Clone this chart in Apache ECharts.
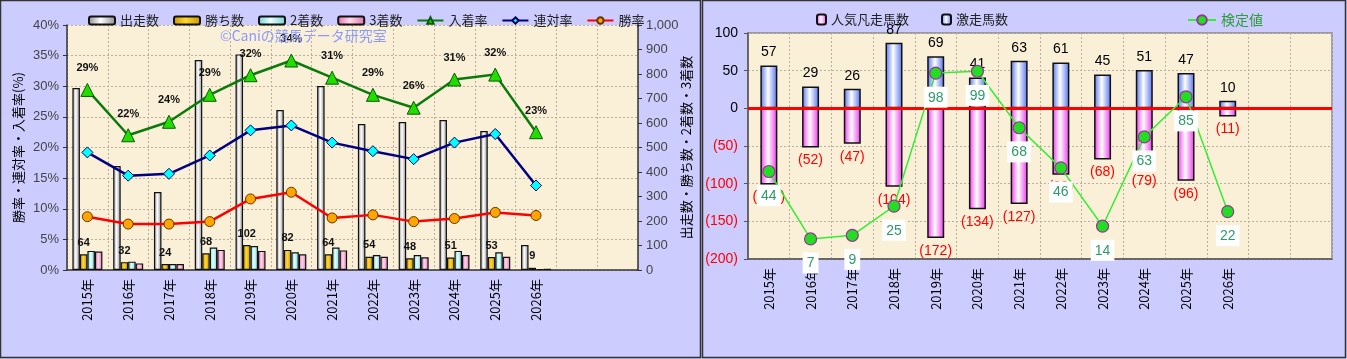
<!DOCTYPE html>
<html><head><meta charset="utf-8">
<script src="https://cdn.jsdelivr.net/npm/echarts@6/dist/echarts.min.js"></script>
<style>html,body{margin:0;padding:0;background:#CCCCFF;}#c{width:1347px;height:359px;}</style>
</head><body><div id="c"></div>
<script>
// ---- data ----
const categories = ['2015年','2016年','2017年','2018年','2019年','2020年','2021年','2022年','2023年','2024年','2025年','2026年','',''];
const starts   = [743, 424, 318, 857, 880, 653, 751, 596, 604, 612, 567, 102];
const wins     = [64, 32, 24, 68, 102, 82, 64, 54, 48, 51, 53, 9];
const seconds  = [78, 34, 24, 92, 98, 72, 92, 61, 61, 78, 72, 4];
const thirds   = [75, 27, 24, 82, 78, 64, 80, 54, 52, 61, 54, 5];
const placeRate = [29.4, 22.0, 24.2, 28.6, 31.8, 34.2, 31.4, 28.6, 26.5, 31.1, 31.9, 22.5];
const quinRate  = [19.2, 15.4, 15.7, 18.7, 22.8, 23.6, 20.8, 19.4, 18.1, 20.8, 22.2, 13.8];
const winRate   = [8.7, 7.5, 7.5, 7.9, 11.6, 12.7, 8.5, 9.0, 7.9, 8.4, 9.4, 8.9];
const placeRateLabels = ['29%','22%','24%','29%','32%','34%','31%','29%','26%','31%','32%','23%'];

const gekisou = [57, 29, 26, 87, 69, 41, 63, 61, 45, 51, 47, 10];
const ninkiBonsou = [-101, -52, -47, -104, -172, -134, -127, -88, -68, -79, -96, -11];
const kenteichi = [44, 7, 9, 25, 98, 99, 68, 46, 14, 63, 85, 22];

const leftTicks = {min: 0, max: 40, interval: 5};
const rightTicks = {min: 0, max: 1000, interval: 100};
const r2Ticks = {min: -200, max: 100, interval: 50};

// ---- styles ----
const FF = '"Liberation Sans","Noto Sans CJK JP",sans-serif';
const JF = '"Noto Sans CJK JP",sans-serif';
function grad(edge, mid){
  return new echarts.graphic.LinearGradient(0,0,1,0,[
    {offset:0,color:edge},{offset:0.45,color:mid},{offset:1,color:edge}]);
}
const dotted = {lineStyle:{color:'#b9b0a0', type:[2,2], width:1}};

const chart = echarts.init(document.getElementById('c'), null, {renderer:'canvas'});
const option = {
  backgroundColor: '#CCCCFF',
  animation: false,
  textStyle: {fontFamily: FF},
  graphic: [
    {type:'rect', shape:{x:0.5,y:0.5,width:700,height:357}, style:{fill:'none', stroke:'#333', lineWidth:1.5}, z:100},
    {type:'rect', shape:{x:702.5,y:0.5,width:643,height:357}, style:{fill:'none', stroke:'#333', lineWidth:1.5}, z:100},
    {type:'text', left:220, top:29, style:{text:'©Caniの競馬データ研究室', fill:'#8C9AFF', font:'14px '+JF}, z:50}
  ],
  legend: [
    {left:83, top:9, itemWidth:26, itemHeight:8, itemGap:14,
     textStyle:{fontSize:13, color:'#222', fontFamily:JF},
     data:['出走数','勝ち数','2着数','3着数','入着率','連対率','勝率']},
    {left:811, top:8, itemWidth:9, itemHeight:10, textStyle:{fontSize:13, color:'#222', fontFamily:JF}, data:['人気凡走馬数']},
    {left:936, top:8, itemWidth:9, itemHeight:10, textStyle:{fontSize:13, color:'#222', fontFamily:JF}, data:['激走馬数']},
    {left:1182, top:8, itemWidth:28, itemHeight:12, textStyle:{fontSize:14, color:'#2E9A3A', fontFamily:JF}, data:['検定値']}
  ],
  grid: [
    {left:67, top:25, width:571, height:245, show:true, backgroundColor:'#FAF0D8', borderWidth:0},
    {left:748, top:33, width:584, height:226, show:true, backgroundColor:'#FAF0D8', borderColor:'#888', borderWidth:1.5}
  ],
  xAxis: [
    {gridIndex:0, type:'category', data:categories, boundaryGap:true,
     axisLine:{lineStyle:{color:'#333', width:1.5}}, axisTick:{show:false},
     axisLabel:{rotate:90, interval:0, margin:9, color:'#000', fontSize:13, fontFamily:JF},
     splitLine:{show:true, interval:0, ...dotted}},
    {gridIndex:1, type:'category', data:categories, boundaryGap:true,
     axisLine:{onZero:false, lineStyle:{color:'#555', width:1.5}}, axisTick:{show:false},
     axisLabel:{rotate:90, interval:0, margin:9, color:'#000', fontSize:13, fontFamily:JF},
     splitLine:{show:true, interval:0, ...dotted}}
  ],
  yAxis: [
    {gridIndex:0, type:'value', position:'left', ...leftTicks,
     name:'勝率・連対率・入着率(%)', nameLocation:'middle', nameRotate:90, nameGap:42, nameMoveOverlap:false,
     nameTextStyle:{fontSize:13, color:'#000', fontFamily:JF},
     axisLine:{show:true, lineStyle:{color:'#333', width:1.5}},
     axisTick:{show:true, length:4, lineStyle:{color:'#333'}},
     axisLabel:{formatter:'{value}%', color:'#444', fontSize:13, margin:8},
     splitLine:{show:true, ...dotted}},
    {gridIndex:0, type:'value', position:'right', ...rightTicks,
     name:'出走数・勝ち数・2着数・3着数', nameLocation:'middle', nameRotate:90, nameGap:42, nameMoveOverlap:false,
     nameTextStyle:{fontSize:13, color:'#000', fontFamily:JF},
     axisLine:{show:true, lineStyle:{color:'#333', width:1.5}},
     axisTick:{show:true, length:4, lineStyle:{color:'#333'}},
     axisLabel:{color:'#444', fontSize:13, margin:8},
     splitLine:{show:false}},
    {gridIndex:1, type:'value', position:'left', ...r2Ticks,
     axisLine:{show:true, lineStyle:{color:'#555', width:1.5}},
     axisTick:{show:true, length:4, lineStyle:{color:'#555'}},
     axisLabel:{fontSize:14, margin:10, formatter:function(v){return v<0?'{r|('+(-v)+')}':'{k|'+v+'}';},
       rich:{r:{color:'#FF0000', fontSize:14}, k:{color:'#000', fontSize:14}}},
     splitLine:{show:true, ...dotted}},
    {gridIndex:1, type:'value', min:-4, max:120, show:false, splitLine:{show:false}}
  ],
  series: [
    {name:'出走数', type:'bar', xAxisIndex:0, yAxisIndex:1, data:starts, barWidth:7.5, barGap:'0%',
     itemStyle:{color:grad('#8a8a8a','#ffffff'), borderColor:'#111', borderWidth:1.2}},
    {name:'勝ち数', type:'bar', xAxisIndex:0, yAxisIndex:1, data:wins, barWidth:7.5, barGap:'0%',
     itemStyle:{color:grad('#C89200','#FFD830'), borderColor:'#111', borderWidth:1.2},
     label:{show:true, position:'top', distance:6, color:'#111', fontSize:11, fontWeight:'bold', fontFamily:FF}},
    {name:'2着数', type:'bar', xAxisIndex:0, yAxisIndex:1, data:seconds, barWidth:7.5, barGap:'0%',
     itemStyle:{color:grad('#70D0D0','#E8FFFF'), borderColor:'#111', borderWidth:1.2}},
    {name:'3着数', type:'bar', xAxisIndex:0, yAxisIndex:1, data:thirds, barWidth:7.5, barGap:'0%',
     itemStyle:{color:grad('#E070A8','#FFD8EC'), borderColor:'#111', borderWidth:1.2}},
    {name:'入着率', type:'line', xAxisIndex:0, yAxisIndex:0, data:placeRate, symbol:'triangle', symbolSize:13,
     lineStyle:{color:'#0A7A0A', width:2.5}, itemStyle:{color:'#22DD00', borderColor:'#0A5A0A', borderWidth:1},
     label:{show:true, position:'top', distance:9, color:'#111', fontSize:11, fontWeight:'bold', fontFamily:FF,
       formatter:function(p){return placeRateLabels[p.dataIndex];}}, z:5},
    {name:'連対率', type:'line', xAxisIndex:0, yAxisIndex:0, data:quinRate, symbol:'diamond', symbolSize:11,
     lineStyle:{color:'#000080', width:2.5}, itemStyle:{color:'#00FFFF', borderColor:'#000060', borderWidth:1}, z:5},
    {name:'勝率', type:'line', xAxisIndex:0, yAxisIndex:0, data:winRate, symbol:'circle', symbolSize:10,
     lineStyle:{color:'#FF0000', width:2.5}, itemStyle:{color:'#FFA500', borderColor:'#663300', borderWidth:1}, z:5},

    {name:'激走馬数', type:'bar', xAxisIndex:1, yAxisIndex:2, data:gekisou, stack:'r', barWidth:17,
     itemStyle:{color:grad('#5070F0','#FFFFFF'), borderColor:'#111', borderWidth:1.5},
     label:{show:true, position:'top', distance:6, color:'#000', fontSize:14, fontFamily:FF}},
    {name:'人気凡走馬数', type:'bar', xAxisIndex:1, yAxisIndex:2, data:ninkiBonsou, stack:'r', barWidth:17,
     itemStyle:{color:grad('#EE33EE','#FFFFFF'), borderColor:'#111', borderWidth:1.5},
     label:{show:true, position:'bottom', distance:6, color:'#FF0000', fontSize:14, fontFamily:FF,
       formatter:function(p){return '('+Math.abs(p.value)+')';}},
     markLine:{silent:true, symbol:'none', label:{show:false}, lineStyle:{color:'#FF0000', width:3, type:'solid'},
       data:[{yAxis:0}]}},
    {name:'検定値', type:'line', xAxisIndex:1, yAxisIndex:3, data:kenteichi, symbol:'circle', symbolSize:12,
     lineStyle:{color:'#33EE33', width:1.5}, itemStyle:{color:'#22DD22', borderColor:'#993399', borderWidth:1.2},
     label:{show:true, position:'bottom', distance:7, color:'#2E9A6A', fontSize:14, fontFamily:FF,
       backgroundColor:'#FFFFFF', padding:[4,4,3,4]}, z:10}
  ]
};
chart.setOption(option);
</script></body></html>
